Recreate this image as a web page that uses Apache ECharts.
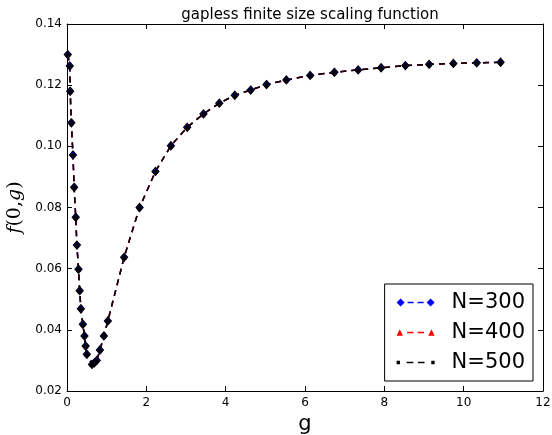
<!DOCTYPE html>
<html>
<head>
<meta charset="utf-8">
<script src="https://cdn.jsdelivr.net/npm/echarts@6/dist/echarts.min.js"></script>
<style>
  html, body { margin: 0; padding: 0; background: #fff; }
  #main { width: 552px; height: 435px; }
</style>
</head>
<body>
<div id="main"></div>
<script>
// coupling g values (x axis)
var gValues = [0.02, 0.07, 0.08, 0.11, 0.15, 0.18, 0.22, 0.25, 0.29, 0.32, 0.35, 0.40, 0.44, 0.47, 0.50,
  0.63, 0.69, 0.75, 0.83, 0.93, 1.03, 1.44, 1.83, 2.23, 2.62, 3.03, 3.44, 3.84, 4.23, 4.63, 5.03,
  5.53, 6.13, 6.74, 7.34, 7.92, 8.53, 9.13, 9.74, 10.33, 10.93]

// f(0,g) for each system size -- the three curves sit on top of each other in the picture
var fN300 = [0.1300, 0.1263, 0.1180, 0.1077, 0.0972, 0.0866, 0.0768, 0.0677, 0.0598, 0.0528, 0.0469, 0.0418, 0.0380, 0.0347, 0.0320,
  0.0287, 0.0292, 0.0300, 0.0334, 0.0380, 0.0429, 0.0637, 0.0800, 0.0918, 0.1002, 0.1062, 0.1106, 0.1141, 0.1167, 0.1184, 0.1202,
  0.1217, 0.1232, 0.1242, 0.1250, 0.1257, 0.1264, 0.1268, 0.1271, 0.1273, 0.1275]
var fN400 = fN300.slice()
var fN500 = fN300.slice()

var seriesNames = ['N=300', 'N=400', 'N=500']
var xTicks = [0, 2, 4, 6, 8, 10, 12]
var yTicks = [0.02, 0.04, 0.06, 0.08, 0.10, 0.12, 0.14]

function pairs(ys) {
  return gValues.map(function (g, i) { return [g, ys[i]] })
}

// legend icons: marker - dash - dash - marker
var iconDiamond = 'path://M0,5L4,1L8,5L4,9ZM11,4.3H17V5.7H11ZM21,4.3H27V5.7H21ZM30,5L34,1L38,5L34,9Z'
var iconTriangle = 'path://M1,8L4,2L7,8ZM11,4.3H17V5.7H11ZM21,4.3H27V5.7H21ZM31,8L34,2L37,8Z'
var iconDot = 'path://M2,3.5H5V6.5H2ZM11,4.3H17V5.7H11ZM21,4.3H27V5.7H21ZM33,3.5H36V6.5H33Z'

var font = 'DejaVu Sans'
var tickStyle = { show: true, inside: true, length: 5, lineStyle: { color: '#000', width: 1 } }
var lineAxis = { show: true, onZero: false, lineStyle: { color: '#000', width: 1 } }

var myChart = echarts.init(document.getElementById('main'), null, { renderer: 'canvas' })
myChart.setOption({
  animation: false,
  backgroundColor: '#fff',
  title: {
    text: 'gapless finite size scaling function',
    left: 305,
    textAlign: 'center',
    top: 3,
    textStyle: { fontFamily: font, fontSize: 15, fontWeight: 'normal', color: '#000' }
  },
  grid: { left: 67, right: 9, top: 24, bottom: 44, outerBoundsMode: 'none', containLabel: false },
  legend: {
    orient: 'vertical',
    right: 19,
    bottom: 54,
    padding: [8, 8, 8, 12],
    itemGap: 9,
    itemWidth: 38,
    itemHeight: 10,
    borderColor: '#000',
    borderWidth: 1,
    textStyle: { fontFamily: font, fontSize: 21, color: '#000', padding: [0, 0, 0, 12] },
    data: [
      { name: 'N=300', icon: iconDiamond, itemStyle: { color: '#0000ff', borderWidth: 0 } },
      { name: 'N=400', icon: iconTriangle, itemStyle: { color: '#ff0000', borderWidth: 0 } },
      { name: 'N=500', icon: iconDot, itemStyle: { color: '#000000', borderWidth: 0 } }
    ]
  },
  xAxis: [
    {
      type: 'value',
      min: 0, max: 12, interval: 2,
      name: 'g',
      nameLocation: 'middle',
      nameGap: 18,
      nameTextStyle: { fontFamily: font, fontSize: 21, color: '#000', verticalAlign: 'top' },
      axisLine: lineAxis,
      axisTick: tickStyle,
      axisLabel: {
        fontFamily: font, fontSize: 12, color: '#000', margin: 6,
        formatter: function (v) { return xTicks.indexOf(v) >= 0 ? String(v) : '' }
      },
      splitLine: { show: false }
    },
    {
      type: 'value',
      position: 'top',
      min: 0, max: 12, interval: 2,
      axisLine: lineAxis,
      axisTick: tickStyle,
      axisLabel: { show: false },
      splitLine: { show: false }
    }
  ],
  yAxis: [
    {
      type: 'value',
      min: 0.02, max: 0.14, interval: 0.02,
      name: '{i|f}(0,{i|g})',
      nameLocation: 'middle',
      nameGap: 40,
      nameRotate: 90,
      nameTextStyle: {
        fontFamily: 'DejaVu Serif', fontSize: 19, color: '#000', padding: [5, 0, 0, 0],
        rich: { i: { fontFamily: 'DejaVu Serif', fontStyle: 'italic', fontSize: 19, color: '#000' } }
      },
      axisLine: lineAxis,
      axisTick: tickStyle,
      axisLabel: {
        fontFamily: font, fontSize: 12, color: '#000', margin: 5,
        formatter: function (v) { return v.toFixed(2) }
      },
      splitLine: { show: false }
    },
    {
      type: 'value',
      position: 'right',
      min: 0.02, max: 0.14, interval: 0.02,
      axisLine: lineAxis,
      axisTick: tickStyle,
      axisLabel: { show: false },
      splitLine: { show: false }
    }
  ],
  series: [
    {
      name: seriesNames[0],
      type: 'line',
      data: pairs(fN300),
      symbol: 'diamond',
      symbolSize: [7, 8],
      showAllSymbol: true,
      itemStyle: { color: '#0000ff', borderColor: '#000', borderWidth: 1.2 },
      lineStyle: { color: '#0000ff', width: 1.5, type: [6, 5] }
    },
    {
      name: seriesNames[1],
      type: 'line',
      data: pairs(fN400),
      symbol: 'triangle',
      symbolSize: 4,
      showAllSymbol: true,
      itemStyle: { color: '#ff0000', borderColor: '#000', borderWidth: 1 },
      lineStyle: { color: '#ff0000', width: 1.5, type: [6, 5] }
    },
    {
      name: seriesNames[2],
      type: 'line',
      data: pairs(fN500),
      symbol: 'circle',
      symbolSize: 4,
      showAllSymbol: true,
      itemStyle: { color: '#000', borderColor: '#000', borderWidth: 0 },
      lineStyle: { color: '#000', width: 1.5, type: [6, 5] }
    }
  ]
})
window.addEventListener('resize', function () {
  myChart.resize()
})
</script>
</body>
</html>
